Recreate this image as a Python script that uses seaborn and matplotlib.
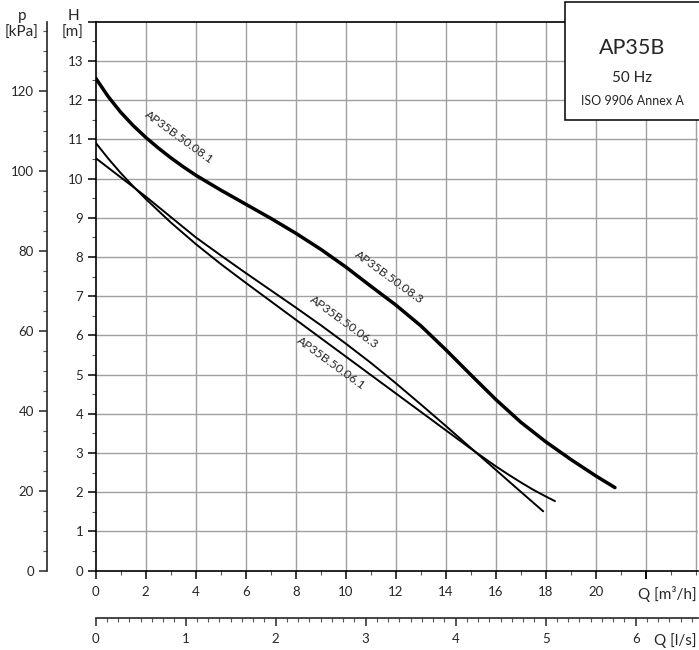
import matplotlib
matplotlib.use("Agg")
import matplotlib.pyplot as plt
from matplotlib.patches import Rectangle
from matplotlib.ticker import MultipleLocator
import seaborn as sns
import pandas as pd

# ---- data ----
q_081 = [0, 0.5, 1, 1.5, 2, 2.5, 3, 3.5, 4, 5, 6, 7, 8, 9, 10, 11, 12, 13, 14, 15, 16,
         17, 18, 19, 20, 20.77]
h_081 = [12.56, 12.09, 11.69, 11.35, 11.05, 10.78, 10.53, 10.30, 10.085, 9.705, 9.345,
         8.985, 8.605, 8.195, 7.745, 7.255, 6.775, 6.245, 5.635, 4.995, 4.365, 3.785,
         3.285, 2.835, 2.415, 2.115]

q_061 = [0, 0.5, 1, 1.5, 2, 3, 4, 5, 6, 7, 8, 9, 10, 11, 12, 13, 14, 15, 16, 16.5, 17,
         17.5, 18, 18.37]
h_061 = [10.91, 10.51, 10.14, 9.80, 9.48, 8.88, 8.33, 7.82, 7.34, 6.87, 6.40, 5.93, 5.46,
         4.99, 4.52, 4.05, 3.58, 3.11, 2.66, 2.45, 2.25, 2.06, 1.89, 1.77]

q_063 = [0, 1, 2, 3, 4, 5, 6, 7, 8, 9, 10, 11, 12, 13, 14, 15, 16, 17, 17.9]
h_063 = [10.52, 10.03, 9.54, 9.02, 8.50, 8.04, 7.59, 7.15, 6.71, 6.26, 5.79, 5.30, 4.78,
         4.24, 3.69, 3.13, 2.57, 2.01, 1.51]

curve_labels = ["AP35B.50.08.1", "AP35B.50.08.3", "AP35B.50.06.3", "AP35B.50.06.1"]
h_ticks = list(range(0, 15))
q_ticks = list(range(0, 24, 2))
p_ticks = [0, 20, 40, 60, 80, 100, 120]
ls_ticks = [0, 1, 2, 3, 4, 5, 6]

sns.set_style("white")
plt.rcParams["font.family"] = ["Lato", "DejaVu Sans"]

W, H = 699, 650
fig = plt.figure(figsize=(W / 100, H / 100), dpi=100)
x0, y0 = 95.7, 570.5
ax = fig.add_axes([x0 / W, (H - y0) / H, 24.1 * 25 / W, 14 * 39.2 / H])

df = pd.concat([
    pd.DataFrame({"Q": q_081, "H": h_081, "c": "081"}),
    pd.DataFrame({"Q": q_061, "H": h_061, "c": "061"}),
    pd.DataFrame({"Q": q_063, "H": h_063, "c": "063"}),
])
for key, lw in [("081", 2.5), ("061", 1.4), ("063", 1.4)]:
    sns.lineplot(data=df[df.c == key], x="Q", y="H", color="black", lw=lw, ax=ax,
                 sort=False, estimator=None, solid_joinstyle="round",
                 solid_capstyle="round")

ax.set_xlim(0, 24.1)
ax.set_ylim(0, 14)
ax.set_xlabel("")
ax.set_ylabel("")

grid_c = "#a0a0a0"
ax.set_xticks(q_ticks + [22])
ax.set_xticklabels([str(v) for v in q_ticks] + [""])
ax.xaxis.set_minor_locator(MultipleLocator(1))
ax.set_yticks(h_ticks)
ax.set_yticklabels([str(v) for v in h_ticks[:-1]] + [""])
ax.yaxis.set_minor_locator(MultipleLocator(0.5))
for v in range(2, 25, 2):
    ax.axvline(v, color=grid_c, lw=1.0, zorder=0)
for v in range(1, 14):
    ax.axhline(v, color=grid_c, lw=1.0, zorder=0)

for s in ["left", "bottom", "top"]:
    ax.spines[s].set_color("black")
    ax.spines[s].set_linewidth(1.2)
ax.spines["right"].set_visible(False)
ax.tick_params(which="major", direction="out", length=6, width=1.1, color="black",
               labelsize=9.5, pad=3, bottom=True, left=True)
ax.tick_params(which="minor", direction="out", length=3, width=0.8, color="#555555",
               bottom=True, left=True)
ax.tick_params(axis="x", which="major", pad=5)

# pressure axis
pax = ax.secondary_yaxis(-0.0808, functions=(lambda h: h * 9.81, lambda p: p / 9.81))
pax.set_yticks(p_ticks)
pax.yaxis.set_minor_locator(MultipleLocator(5))
pax.spines["left"].set_linewidth(1.2)
pax.tick_params(which="major", direction="out", length=6, width=1.1, labelsize=9.5)
pax.tick_params(which="minor", direction="out", length=3, width=0.8, color="#555555")

# l/s axis
lax = ax.secondary_xaxis(-0.0866, functions=(lambda q: q / 3.6, lambda l: l * 3.6))
lax.set_xticks(ls_ticks)
lax.xaxis.set_minor_locator(MultipleLocator(0.125))
lax.spines["bottom"].set_linewidth(1.2)
lax.tick_params(which="major", direction="out", length=6, width=1.1, labelsize=9.5, pad=5)
lax.tick_params(which="minor", direction="out", length=3, width=0.8, color="#555555")

# axis titles
def ftxt(px, py, s, **kw):
    fig.text(px / W, 1 - py / H, s, **kw)

ftxt(73, 16, "H", ha="center", va="center", fontsize=11)
ftxt(73, 33, "[m]", ha="center", va="center", fontsize=11)
ftxt(22, 16, "p", ha="center", va="center", fontsize=11)
ftxt(22, 33, "[kPa]", ha="center", va="center", fontsize=11)
ftxt(697, 594, "Q [m³/h]", ha="right", va="center", fontsize=11)
ftxt(697, 641, "Q [l/s]", ha="right", va="center", fontsize=11)

# curve labels
lab_pos = [(3.33, 11.06), (11.73, 7.48), (9.93, 6.34), (9.41, 5.29)]
for (qx, hy), s in zip(lab_pos, curve_labels):
    ax.text(qx, hy, s, rotation=-36, rotation_mode="anchor", ha="center", va="center",
            fontsize=8.8)

# title box
ax.add_patch(Rectangle((18.77, 11.49), 8.0, 3.0, facecolor="white", edgecolor="black",
                       lw=1.1, clip_on=False, zorder=5))
ax.text(21.45, 13.34, "AP35B", ha="center", va="center", fontsize=15.5, zorder=6)
ax.text(21.45, 12.56, "50 Hz", ha="center", va="center", fontsize=11, zorder=6)
ax.text(21.45, 11.98, "ISO 9906 Annex A", ha="center", va="center", fontsize=9, zorder=6)

fig.savefig("out.png", dpi=100)
